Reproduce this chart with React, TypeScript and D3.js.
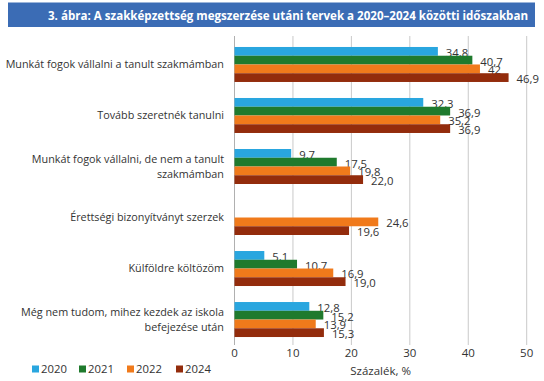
import React from "react";
import * as d3 from "d3";

const categories = [
  ["Munkát fogok vállalni a tanult szakmámban"],
  ["Tovább szeretnék tanulni"],
  ["Munkát fogok vállalni, de nem a tanult", "szakmámban"],
  ["Érettségi bizonyítványt szerzek"],
  ["Külföldre költözöm"],
  ["Még nem tudom, mihez kezdek az iskola", "befejezése után"],
];
const seriesNames = ["2020", "2021", "2022", "2024"];
const v2020 = [34.8, 32.3, 9.7, null, 5.1, 12.8];
const v2021 = [40.7, 36.9, 17.5, null, 10.7, 15.2];
const v2022 = [42, 35.2, 19.8, 24.6, 16.9, 13.9];
const v2024 = [46.9, 36.9, 22.0, 19.6, 19.0, 15.3];
const l2020 = ["34,8", "32,3", "9,7", "", "5,1", "12,8"];
const l2021 = ["40,7", "36,9", "17,5", "", "10,7", "15,2"];
const l2022 = ["42", "35,2", "19,8", "24,6", "16,9", "13,9"];
const l2024 = ["46,9", "36,9", "22,0", "19,6", "19,0", "15,3"];
const xTicks = [0, 10, 20, 30, 40, 50];
const colors = ["#29a6df", "#1f7a2d", "#f07a1b", "#932c0c"];
const title = "3. ábra: A szakképzettség megszerzése utáni tervek a 2020–2024 közötti időszakban";
const xTitle = "Százalék, %";

const values = [v2020, v2021, v2022, v2024];
const labels = [l2020, l2021, l2022, l2024];

export default function App() {
  const W = 544, H = 381;
  const font = "'Open Sans', sans-serif";
  const x = d3.scaleLinear().domain([0, 50]).range([234.5, 526.7]);
  const idx = categories.map((_, i) => String(i));
  const y = d3.scaleBand().domain(idx).range([38, 346]).paddingInner(0.314).paddingOuter(0.176);
  const ys = d3.scaleBand().domain(seriesNames).range([0, y.bandwidth()]);
  return (
    <svg width={W} height={H} style={{ position: "absolute", left: 0, top: 0, background: "#fff" }}>
      <rect x={8} y={2.5} width={527} height={24.5} fill="#3b6cb5" />
      <text x={48} y={19.5} fill="#fff" fontFamily={font} fontWeight={700} fontSize={12.5}
        textLength={480} lengthAdjust="spacingAndGlyphs">{title}</text>
      {xTicks.map((t) => (
        <g key={t}>
          <line x1={x(t)} x2={x(t)} y1={36} y2={345} stroke={t === 0 ? "#b0b0b0" : "#c9c9c9"} strokeWidth={1} />
          <text x={x(t)} y={357} textAnchor="middle" fontFamily={font} fontSize={11.5} fill="#333">{t}</text>
        </g>
      ))}
      <text x={x(25)} y={374.5} textAnchor="middle" fontFamily={font} fontSize={11.5} fill="#333">{xTitle}</text>
      {categories.map((lines, i) => {
        const cy = (y(String(i)) as number) + y.bandwidth() / 2;
        const lh = 15;
        const y0 = cy - ((lines.length - 1) * lh) / 2;
        return (
          <text key={i} textAnchor="end" fontFamily={font} fontSize={10.8} fill="#333">
            {lines.map((ln, j) => (
              <tspan key={j} x={224} y={y0 + j * lh} dy="0.35em">{ln}</tspan>
            ))}
          </text>
        );
      })}
      {seriesNames.map((s, si) =>
        values[si].map((v, i) => {
          if (v == null) return null;
          const by = (y(String(i)) as number) + (ys(s) as number);
          const bh = ys.bandwidth();
          return (
            <g key={s + i}>
              <rect x={x(0)} y={by} width={x(v) - x(0)} height={bh} fill={colors[si]} />
              <text x={x(v) + 8} y={by + bh / 2 + 1.5} dy="0.35em" fontFamily={font} fontSize={11.3} fill="#333">
                {labels[si][i]}
              </text>
            </g>
          );
        })
      )}
      {seriesNames.map((s, si) => {
        const lx = [32, 79, 127, 176][si];
        return (
          <g key={s}>
            <rect x={lx} y={365.5} width={7} height={7} fill={colors[si]} />
            <text x={lx + 9} y={369} dy="0.35em" fontFamily={font} fontSize={11.3} fill="#333">{s}</text>
          </g>
        );
      })}
    </svg>
  );
}
